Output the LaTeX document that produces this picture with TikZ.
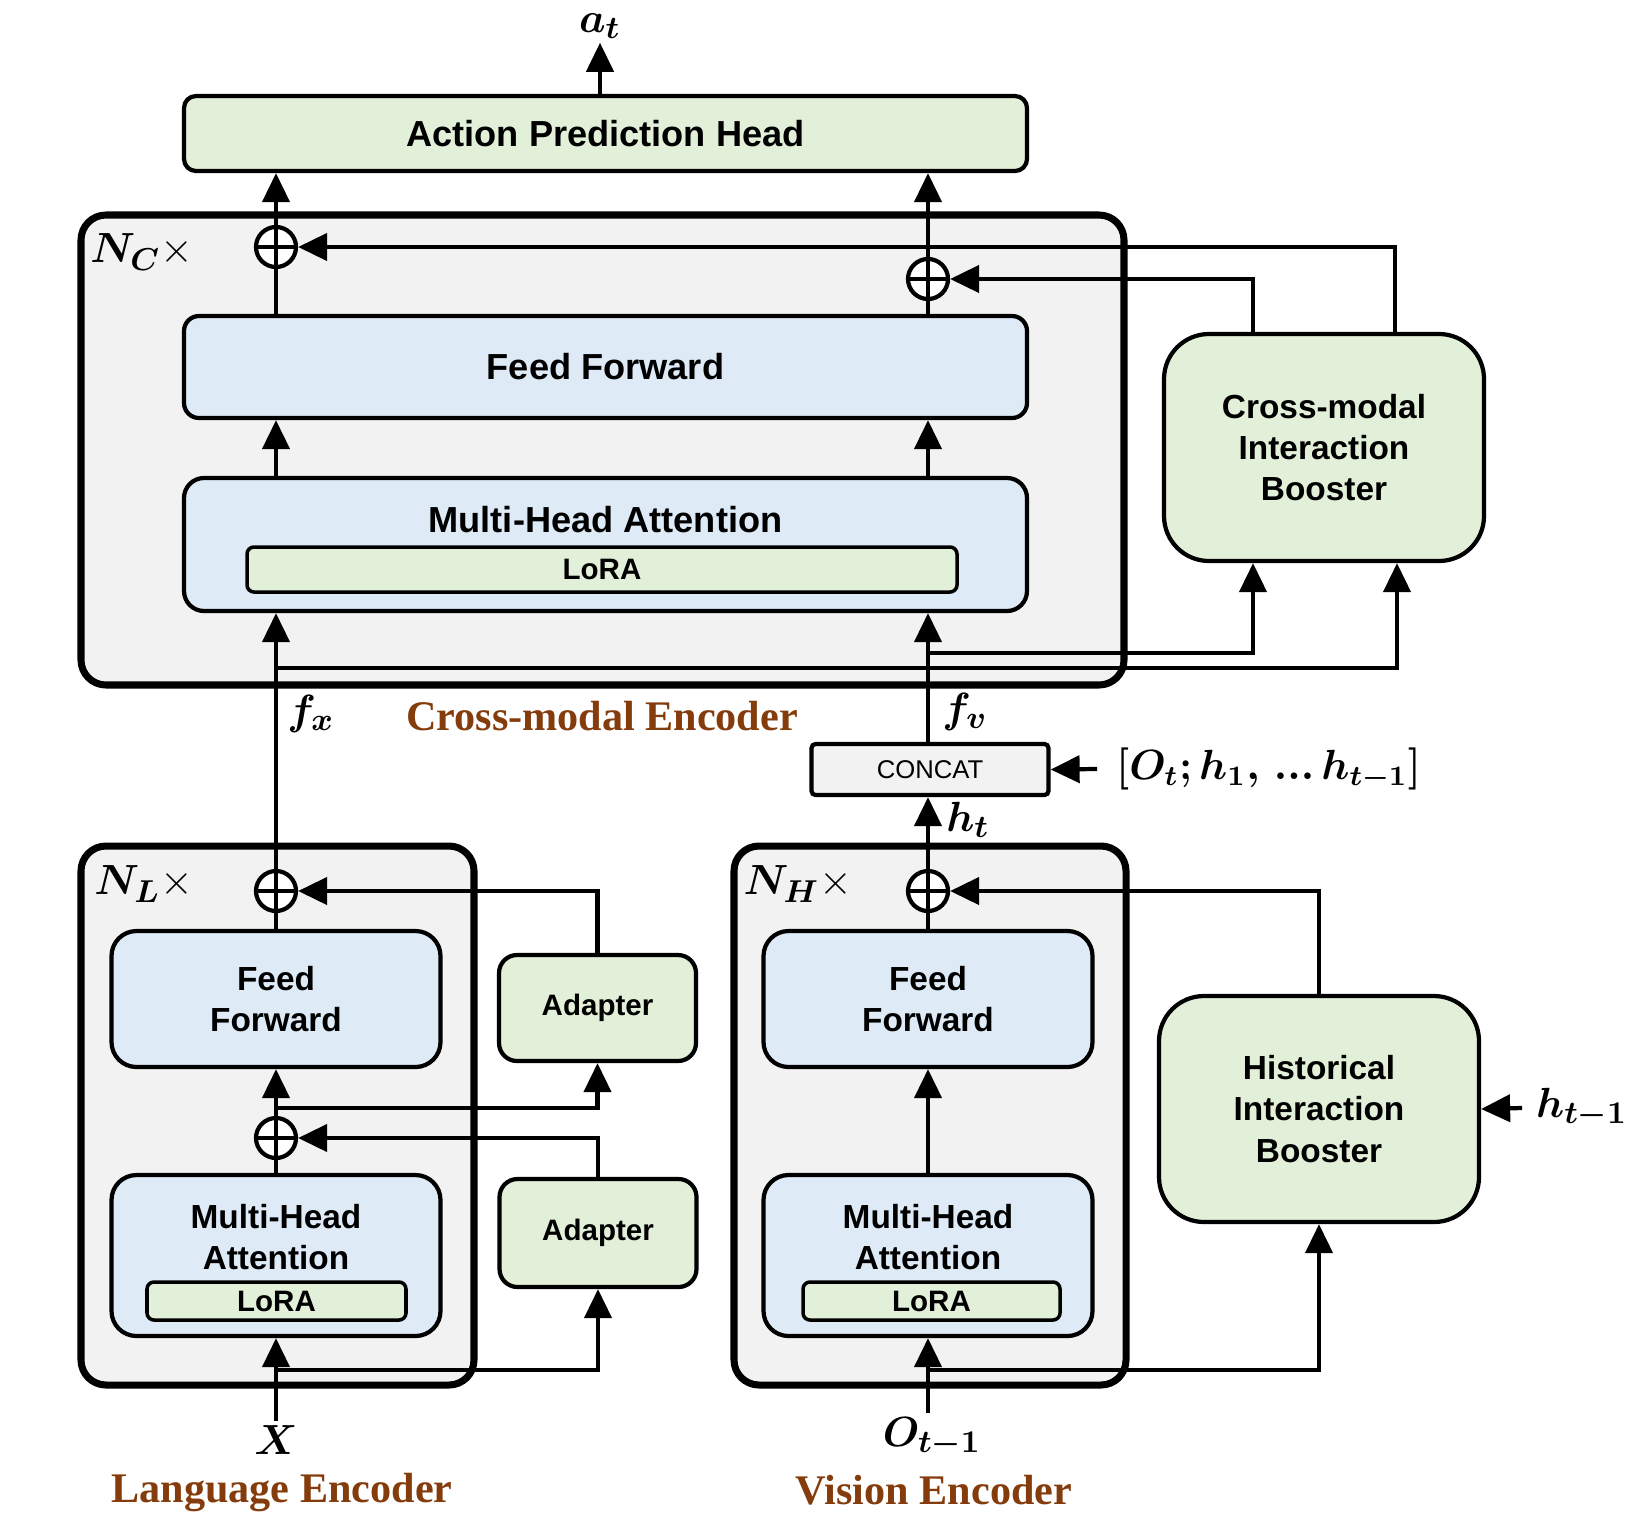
\documentclass[tikz,border=0pt]{standalone}
\usepackage{fontspec}
\usepackage{bm}
\usetikzlibrary{arrows.meta}

\newfontfamily\sansfont{Liberation Sans}
\newfontfamily\seriffont{Liberation Serif}

\definecolor{blueF}{HTML}{DEEBF7}
\definecolor{greenF}{HTML}{E2F0D9}
\definecolor{grayF}{HTML}{F2F2F2}
\definecolor{brownT}{HTML}{843C0C}

\newcommand{\boxbig}{\sansfont\bfseries\fontsize{10.3}{12}\selectfont}
\newcommand{\boxmid}{\sansfont\bfseries\fontsize{9.5}{11.7}\selectfont}
\newcommand{\boxsmall}{\sansfont\bfseries\fontsize{8.4}{10}\selectfont}
\newcommand{\catfont}{\sansfont\fontsize{7.3}{9}\selectfont}
\newcommand{\titlelab}{\seriffont\bfseries\fontsize{12}{14}\selectfont}
\newcommand{\mathlab}{\fontsize{13}{15}\selectfont}

\tikzset{
    enc/.style={draw, line width=2pt, rounded corners=2.5mm, fill=grayF},
    blk/.style={draw, line width=1.2pt, rounded corners=2.5mm, fill=blueF,
        inner sep=0pt, align=center, font=\boxmid},
    grn/.style={draw, line width=1.2pt, rounded corners=1.8mm, fill=greenF,
        inner sep=0pt, align=center, font=\boxmid},
    lora/.style={draw, line width=1pt, rounded corners=0.7mm, fill=greenF,
        inner sep=0pt, font=\boxsmall},
    adapter/.style={grn, minimum width=19.7mm, font=\boxsmall},
    cat/.style={draw, line width=1.2pt, rounded corners=0.4mm, fill=grayF,
        inner sep=0pt, font=\catfont},
    plus/.style={circle, draw, line width=1.2pt, fill=white, minimum size=4mm,
        inner sep=0pt, path picture={
            \draw[line width=1.2pt] (path picture bounding box.north) -- (path picture bounding box.south)
                (path picture bounding box.west) -- (path picture bounding box.east);}},
    line/.style={line width=1.2pt},
    arr/.style={line width=1.2pt, -{Triangle[length=2.9mm,width=2.7mm]}},
    mlab/.style={font=\mathlab, inner sep=1pt},
    tlab/.style={font=\titlelab, text=brownT, inner sep=1pt}
}

\begin{document}
\begin{tikzpicture}[x=0.1mm, y=-0.1mm]
    \useasboundingbox (0,0) rectangle (1627,1528);

    % encoder frames
    \node[enc, minimum width=104.3mm, minimum height=47mm] (cenc) at (602.5,450) {};
    \node[enc, minimum width=39.3mm, minimum height=53.9mm] (lenc) at (277.5,1115.5) {};
    \node[enc, minimum width=39.2mm, minimum height=53.9mm] (venc) at (930,1115.5) {};

    % cross-modal encoder
    \node[grn, rounded corners=1.2mm, minimum width=84.3mm, minimum height=7.5mm, font=\boxbig] (aph) at (605.5,133.5) {Action Prediction Head};
    \node[blk, rounded corners=1.5mm, minimum width=84.3mm, minimum height=10.2mm, font=\boxbig] (cff) at (605.5,367) {Feed Forward};
    \node[blk, rounded corners=2mm, minimum width=84.3mm, minimum height=13.3mm] (cmha) at (605.5,544.5) {};
    \node[font=\boxbig] (cmhatxt) at (605.5,520) {Multi-Head Attention};
    \node[lora, minimum width=71mm, minimum height=4.5mm] (clora) at (602,569.5) {LoRA};
    \node[grn, rounded corners=4.5mm, minimum width=32mm, minimum height=22.7mm] (cib) at (1324,447.5) {Cross-modal\\Interaction\\Booster};
    \node[plus] (cl) at (276,247) {};
    \node[plus] (cr) at (928,279) {};
    \node[cat, minimum width=23.7mm, minimum height=5.1mm] (concat) at (930,769.5) {CONCAT};

    % language encoder
    \node[blk, minimum width=32.9mm, minimum height=13.6mm] (lff) at (276,999) {Feed\\Forward};
    \node[blk, minimum width=32.9mm, minimum height=16.1mm] (lmha) at (276,1255.5) {};
    \node[font=\boxmid, align=center] (lmhatxt) at (276,1237) {Multi-Head\\Attention};
    \node[lora, minimum width=25.9mm, minimum height=3.8mm] (llora) at (276.5,1301) {LoRA};
    \node[adapter, minimum height=10.6mm] (ad1) at (597.5,1008) {Adapter};
    \node[adapter, minimum height=10.8mm] (ad2) at (598,1233) {Adapter};
    \node[plus] (lp1) at (276,891) {};
    \node[plus] (lp2) at (276,1138) {};

    % vision encoder
    \node[blk, minimum width=32.9mm, minimum height=13.6mm] (vff) at (928,999) {Feed\\Forward};
    \node[blk, minimum width=32.9mm, minimum height=16.1mm] (vmha) at (928,1255.5) {};
    \node[font=\boxmid, align=center] (vmhatxt) at (928,1237) {Multi-Head\\Attention};
    \node[lora, minimum width=25.7mm, minimum height=3.8mm] (vlora) at (931.5,1301) {LoRA};
    \node[grn, rounded corners=4.5mm, minimum width=32mm, minimum height=22.6mm] (hib) at (1319,1109) {Historical\\Interaction\\Booster};
    \node[plus] (vp) at (928,891) {};

    % labels
    \node[mlab] (atl) at (600,26) {$\bm{a_t}$};
    \node[mlab] (ncl) at (142,252) {$\bm{N_C}\times$};
    \node[mlab] (nll) at (144,884) {$\bm{N_L}\times$};
    \node[mlab] (nhl) at (798,884) {$\bm{N_H}\times$};
    \node[mlab] (fxl) at (311,714) {$\bm{f_x}$};
    \node[mlab] (fvl) at (965,712) {$\bm{f_v}$};
    \node[tlab] (cetitle) at (602,716) {Cross-modal Encoder};
    \node[mlab, anchor=west, font=\fontsize{12}{14}\selectfont] (olab) at (1112,769) {$\bm{[O_t;h_1,}\,\bm{...}\,\bm{h_{t-1}]}$};
    \node[mlab] (htl) at (968,820) {$\bm{h_t}$};
    \node[mlab] (xin) at (276,1440) {$\bm{X}$};
    \node[tlab] (letitle) at (282,1492) {Language Encoder};
    \node[mlab] (oin) at (932,1437) {$\bm{O_{t-1}}$};
    \node[tlab] (vetitle) at (934,1490) {Vision Encoder};
    \node[mlab, anchor=west] (hlab) at (1532,1108) {$\bm{h_{t-1}}$};

    % branch points
    \coordinate (fvb) at (928,653);
    \coordinate (fxb) at (276,668);
    \coordinate (lb1) at (276,1108);
    \coordinate (lb2) at (276,1370);
    \coordinate (vb) at (928,1370);

    % cross-modal connectors
    \draw[arr] (aph.north -| atl) -- (atl.south);
    \draw[line] (cl |- cff.north) -- (cl);
    \draw[arr] (cl) -- (cl |- aph.south);
    \draw[line] (cr |- cff.north) -- (cr);
    \draw[arr] (cr) -- (cr |- aph.south);
    \draw[arr] (cl |- cmha.north) -- (cl |- cff.south);
    \draw[arr] (cr |- cmha.north) -- (cr |- cff.south);
    \draw[arr] ([xshift=-7.1mm]cib.north) |- (cr);
    \draw[arr] ([xshift=7.1mm]cib.north) |- (cl);
    \draw[arr] (fvb) -| ([xshift=-7.1mm]cib.south);
    \draw[arr] (fxb) -| ([xshift=7.3mm]cib.south);
    \draw[arr] (lp1) -- (lp1 |- cmha.south);
    \draw[arr] (cr |- concat.north) -- (cr |- cmha.south);
    \draw[arr] ([xshift=-1.5mm]olab.west) -- (concat.east);

    % language connectors
    \draw[line] (lp1 |- lff.north) -- (lp1);
    \draw[arr] (ad1.north) |- (lp1);
    \draw[line] (lp2 |- lmha.north) -- (lp2);
    \draw[arr] (lp2) -- (lp2 |- lff.south);
    \draw[arr] (lb1) -| (ad1.south);
    \draw[arr] (ad2.north) |- (lp2);
    \draw[arr] (xin.north) -- (xin.north |- lmha.south);
    \draw[arr] (lb2) -| (ad2.south);

    % vision connectors
    \draw[line] (vp |- vff.north) -- (vp);
    \draw[arr] (vp) -- (vp |- concat.south);
    \draw[arr] (hib.north) |- (vp);
    \draw[arr] (vp |- vmha.north) -- (vp |- vff.south);
    \draw[arr] (vp |- oin.north) -- (vp |- vmha.south);
    \draw[arr] (vb) -| (hib.south);
    \draw[arr] ([xshift=-1mm]hlab.west) -- (hib.east);
\end{tikzpicture}
\end{document}
